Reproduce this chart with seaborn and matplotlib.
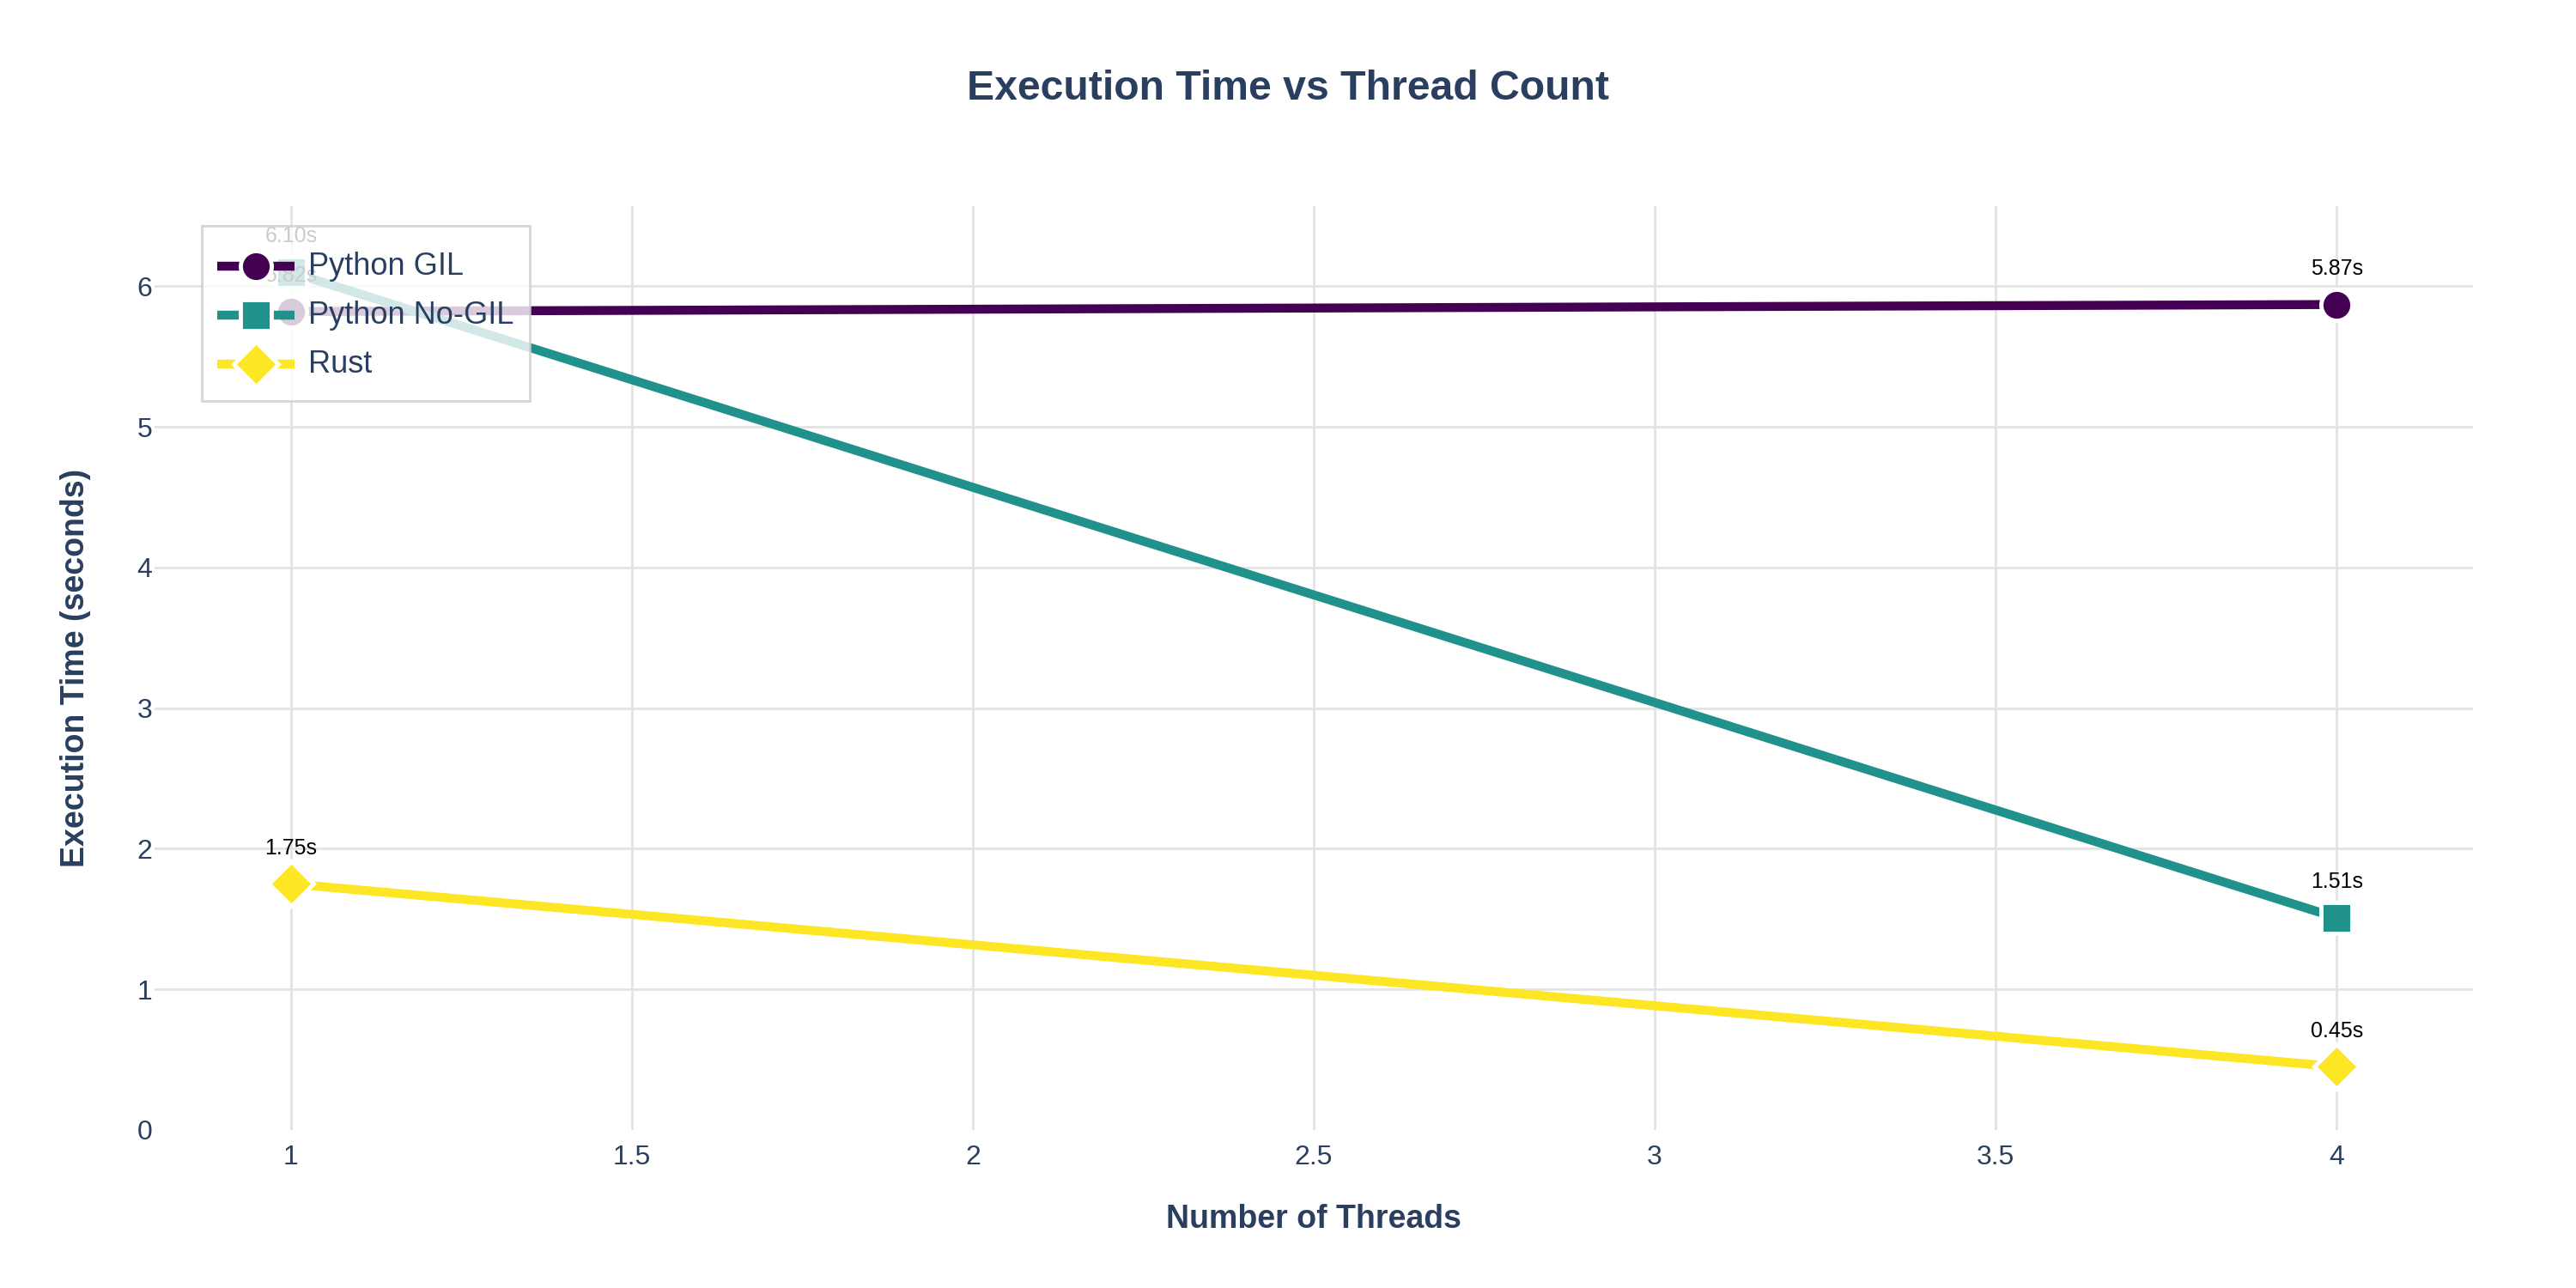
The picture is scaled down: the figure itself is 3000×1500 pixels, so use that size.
import pandas as pd
import matplotlib
matplotlib.use('Agg')
import matplotlib.pyplot as plt
from matplotlib.lines import Line2D
from matplotlib.legend_handler import HandlerLine2D
import seaborn as sns

# values
threads = [1, 4]
python_gil = [5.82, 5.87]
python_nogil = [6.10, 1.51]
rust = [1.75, 0.45]

series_names = ['Python GIL', 'Python No-GIL', 'Rust']
series_values = [python_gil, python_nogil, rust]
colors = ['#440154', '#21918c', '#fde725']
markers = ['o', 's', 'D']

rows = []
for name, vals in zip(series_names, series_values):
    for t, v in zip(threads, vals):
        rows.append({'threads': t, 'time': v, 'impl': name})
df = pd.DataFrame(rows)


class CenteredLine(HandlerLine2D):
    # tall handle box puts the line too high, pull it back to the text middle
    def create_artists(self, legend, orig_handle, xdescent, ydescent,
                       width, height, fontsize, trans):
        return super().create_artists(legend, orig_handle, xdescent, ydescent,
                                      width, height - 14, fontsize, trans)


sns.set_style('white')
plt.rcParams['font.family'] = ['Liberation Sans', 'DejaVu Sans']

text_color = '#2a3f5f'
fig = plt.figure(figsize=(30, 15), dpi=100)
ax = fig.add_axes([0.06, 0.1227, 0.90, 0.7173])

sns.lineplot(data=df, x='threads', y='time', hue='impl', style='impl',
             hue_order=series_names, style_order=series_names,
             palette=dict(zip(series_names, colors)),
             markers=dict(zip(series_names, markers)), dashes=False,
             linewidth=7.5, markersize=26, markeredgecolor='white',
             markeredgewidth=3.5, ax=ax)

# value labels above each point
for name, vals in zip(series_names, series_values):
    for t, v in zip(threads, vals):
        ax.annotate(f'{v:.2f}s', (t, v), xytext=(0, 30), textcoords='offset points',
                    ha='center', va='center', fontsize=18, color='black', zorder=3)

ax.set_xlim(0.8, 4.2)
ax.set_ylim(0, 6.57)
ax.set_xticks([1, 1.5, 2, 2.5, 3, 3.5, 4])
ax.set_xticklabels(['1', '1.5', '2', '2.5', '3', '3.5', '4'])
ax.set_yticks([0, 1, 2, 3, 4, 5, 6])
ax.tick_params(axis='x', length=0, pad=12, labelsize=23, labelcolor=text_color)
ax.tick_params(axis='y', length=0, pad=2, labelsize=23, labelcolor=text_color)
ax.grid(True, color='#e3e3e3', linewidth=2)
ax.yaxis.get_gridlines()[0].set_visible(False)
ax.set_axisbelow(True)
for s in ax.spines.values():
    s.set_visible(False)

ax.set_xlabel('')
ax.set_ylabel('')
fig.text(0.51, 0.0533, 'Number of Threads', ha='center', va='center',
         fontsize=27, fontweight='bold', color=text_color)
fig.text(0.0293, 0.4813, 'Execution Time (seconds)', ha='center', va='center',
         rotation=90, fontsize=27, fontweight='bold', color=text_color)
fig.text(0.5, 0.931, 'Execution Time vs Thread Count', ha='center', va='center',
         fontsize=34.7, fontweight='bold', color=text_color)

handles = ax.get_legend().legend_handles
for h, c, m in zip(handles, colors, markers):
    h.set_linewidth(7.5)
    h.set_solid_capstyle('butt')
    h.set_markersize(26)
    h.set_marker(m)
    h.set_color(c)
    h.set_markeredgecolor('white')
    h.set_markeredgewidth(3.5)
leg = ax.legend(handles=handles, labels=series_names, loc='upper left',
                bbox_to_anchor=(0.0204, 0.9786), borderaxespad=0,
                fontsize=26, handlelength=2.5, handleheight=1.93,
                handletextpad=0.44, labelspacing=0.08, borderpad=0.5,
                fancybox=False, framealpha=0.8, edgecolor='#cccccc',
                labelcolor=text_color, handler_map={Line2D: CenteredLine()})
leg.get_frame().set_linewidth(2)

fig.savefig('out.png', dpi=100)
